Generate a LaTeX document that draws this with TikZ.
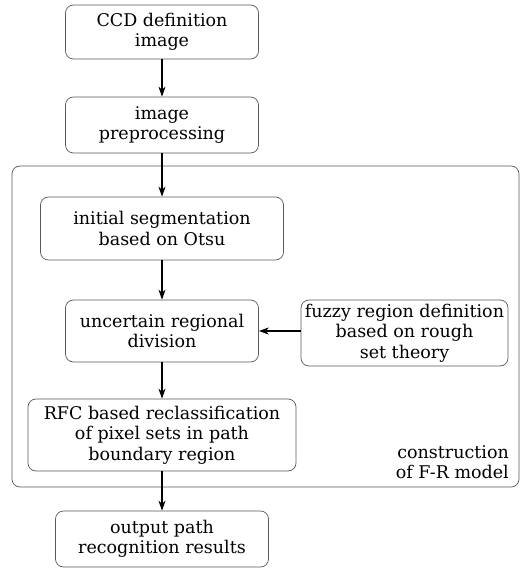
\documentclass[tikz,border=0pt]{standalone}
\usepackage{fontspec}
\setmainfont{DejaVu Serif}
\usetikzlibrary{arrows.meta}
\begin{document}
\begin{tikzpicture}[x=1pt,y=-1pt,
  box/.style={draw=black!65,line width=0.7pt,rounded corners=8pt,align=center,inner sep=0pt,
    font=\fontsize{17.5}{20.5}\selectfont},
  arr/.style={-{Stealth[length=10pt,width=7pt,inset=3pt]},line width=1.1pt}]
\useasboundingbox (0,0) rectangle (526,572);
\node[box,minimum width=193pt,minimum height=54pt] (ccd) at (162,32) {CCD definition\\image};
\node[box,minimum width=193pt,minimum height=56pt] (prep) at (162,125) {image\\preprocessing};
\draw[draw=black!65,line width=0.7pt,rounded corners=8pt] (12,166) rectangle (519,487);
\node[box,minimum width=243pt,minimum height=63pt] (init) at (162,228.5) {initial segmentation\\based on Otsu};
\node[box,minimum width=193pt,minimum height=62pt] (unc) at (162,331) {uncertain regional\\division};
\node[box,minimum width=207pt,minimum height=66pt] (fuzzy) at (404.5,333) {fuzzy region definition\\based on rough\\set theory};
\node[box,minimum width=268pt,minimum height=72pt] (rfc) at (162,435) {RFC based reclassification\\of pixel sets in path\\boundary region};
\node[box,minimum width=213pt,minimum height=56pt] (out) at (162,539) {output path\\recognition results};
\node[align=right,anchor=south east,inner sep=0pt,font=\fontsize{17.5}{20.5}\selectfont] (lab) at (509,479) {construction\\of F-R model};
\draw[arr] (ccd) -- (prep);
\draw[arr] (prep) -- (init);
\draw[arr] (init) -- (unc);
\draw[arr] (unc) -- (rfc);
\draw[arr] (rfc) -- (out);
\draw[arr] (fuzzy.west |- unc.east) -- (unc.east);
\end{tikzpicture}
\end{document}
